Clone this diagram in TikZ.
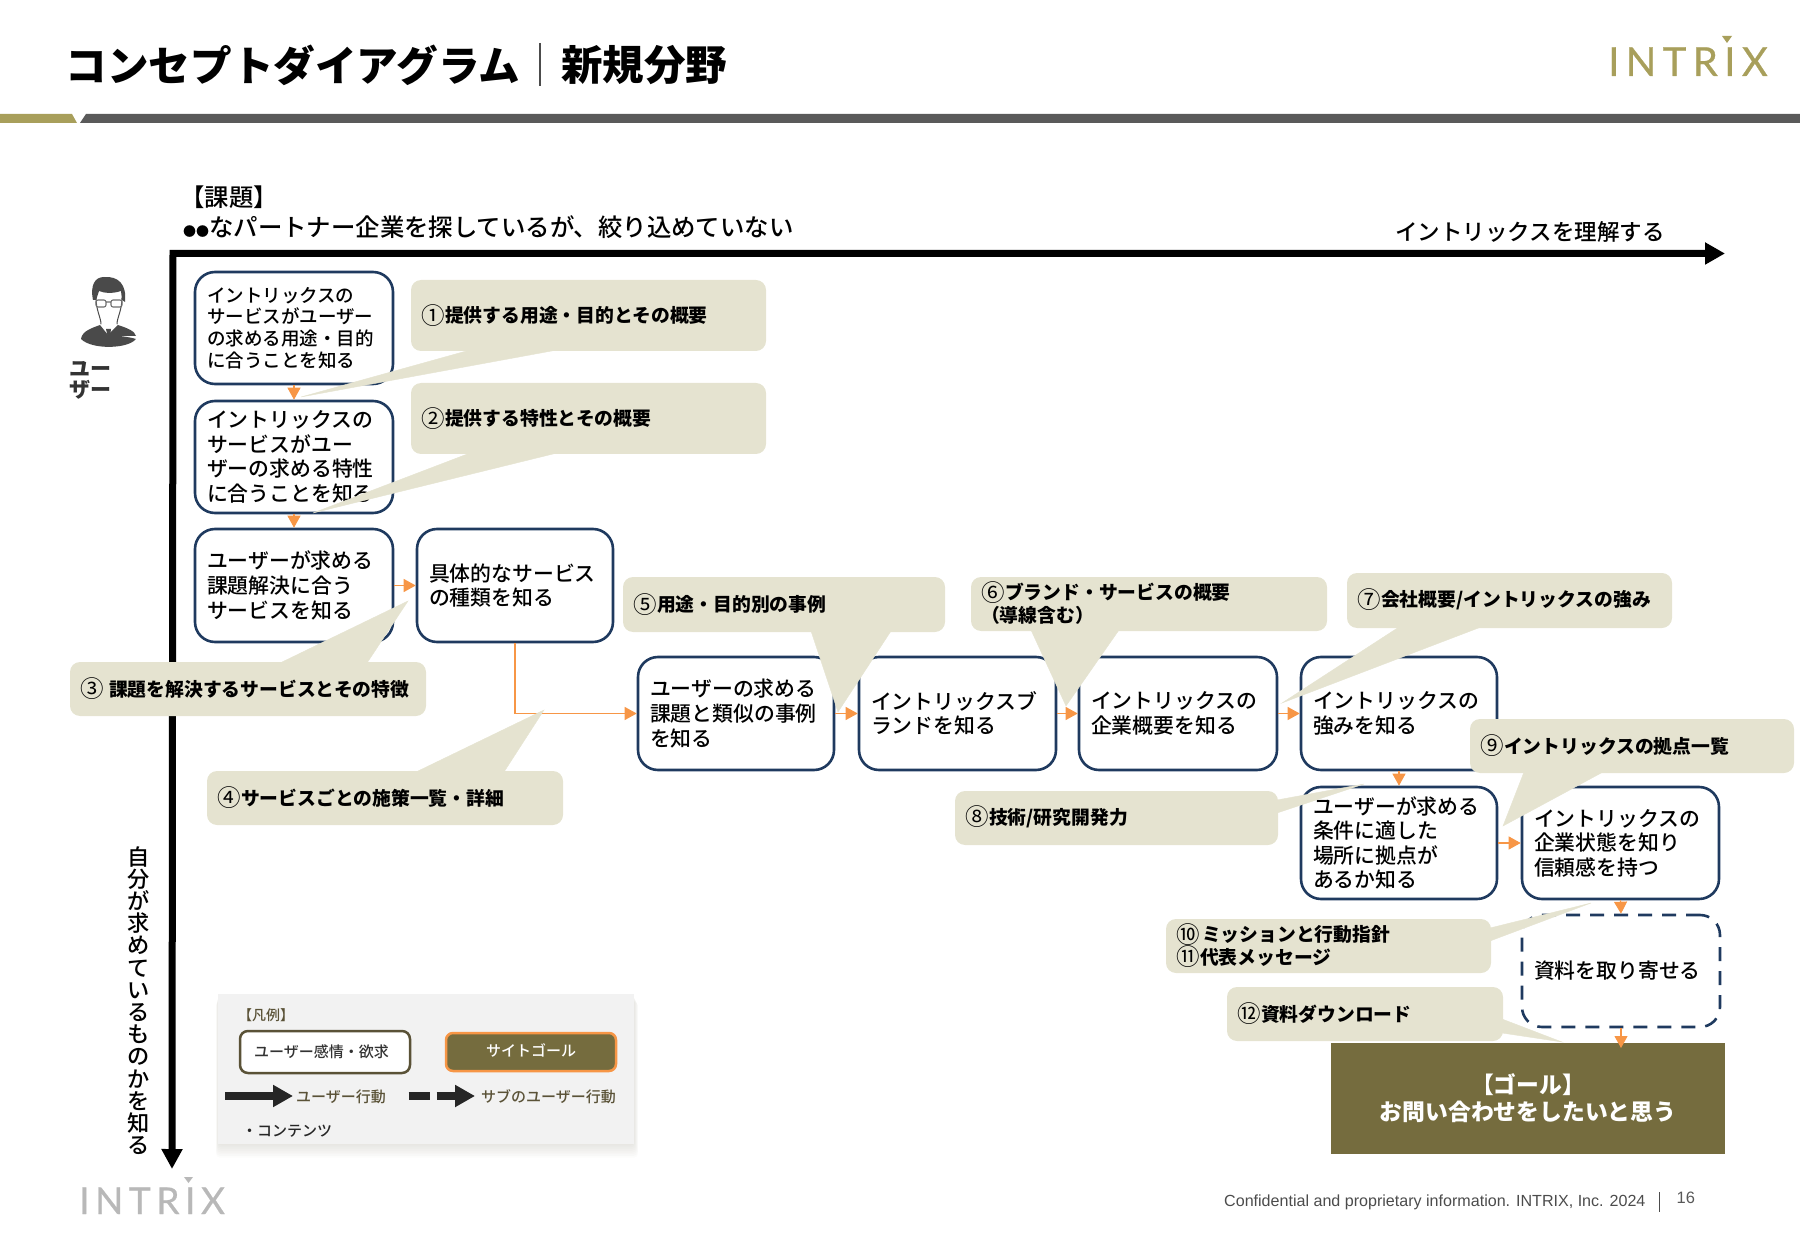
\documentclass[tikz,border=0pt]{standalone}
\usepackage{fontspec}
\setmainfont{Noto Sans CJK JP Medium}
\newfontfamily\latinf{Liberation Sans}
\newfontfamily\logof{Lato}
\newfontfamily\cnf{Noto Sans CJK JP}
\newcommand{\hv}{\cnf\bfseries}
\usetikzlibrary{arrows.meta}
\definecolor{gold}{HTML}{A89F5B}
\definecolor{barc}{HTML}{5A5A5A}
\definecolor{navy}{HTML}{1F3A5F}
\definecolor{orng}{HTML}{F79646}
\definecolor{callc}{HTML}{E5E3D0}
\definecolor{goalc}{HTML}{756C3E}
\definecolor{legbg}{HTML}{F2F2F2}
\definecolor{olive}{HTML}{5A5237}
\definecolor{icon}{HTML}{4A4A4A}
\newcommand{\cn}[1]{\makebox[24pt][l]{\raisebox{-1.6pt}[0pt][0pt]{\cnf\mdseries\fontsize{23.5}{22}\selectfont #1}}}
\tikzset{
  flowbox/.style={draw=navy,fill=white,line width=2.6pt,rounded corners=20pt,inner xsep=12pt,inner ysep=0pt,align=left,font=\fontsize{20.85}{24.6}\selectfont},
  smallbox/.style={flowbox,font=\fontsize{18.5}{21.7}\selectfont},
  dashbox/.style={flowbox,dash pattern=on 14pt off 10pt},
  callbox/.style={fill=callc,rounded corners=10pt,inner xsep=10pt,inner ysep=0pt,align=left,font=\hv\fontsize{18.8}{22.6}\selectfont},
  callptr/.style={fill=callc,draw=callc,line width=0.4pt},
  flow/.style={draw=orng,line width=1.1pt,-{Triangle[length=12pt,width=13pt]}},
  axis/.style={draw=black,line width=7pt},
  legarrow/.style={draw=black!85,line width=8pt,-{Triangle[length=20pt,width=21pt]}},
  legtext/.style={inner sep=0pt,anchor=west,text=olive,font=\fontsize{15}{15}\selectfont},
}
\newcommand{\bx}[7]{%
  \pgfmathsetmacro\bw{#4-#2}\pgfmathsetmacro\bh{#5-#3}\pgfmathsetmacro\tw{\bw-24}%
  \node[#6,minimum width=\bw pt,minimum height=\bh pt,text width=\tw pt] (#1) at ({(#2+#4)/2},{(#3+#5)/2}) {#7};}
\newcommand{\callout}[7]{%
  \pgfmathsetmacro\bw{#4-#2}\pgfmathsetmacro\bh{#5-#3}\pgfmathsetmacro\tw{\bw-20}%
  \node[callbox,minimum width=\bw pt,minimum height=\bh pt,text width=\tw pt] (#1) at ({(#2+#4)/2},{(#3+#5)/2}) {#6};
  \path[callptr] #7 -- cycle;}
\begin{document}
\begin{tikzpicture}[x=1pt,y=-1pt]
\useasboundingbox (0,0) rectangle (1800,1246);
% header
\fill[gold] (0,114) -- (72,114) -- (77,123) -- (0,123) -- cycle;
\fill[barc] (86,114) -- (1800,114) -- (1800,123) -- (80,123) -- cycle;
\node[inner sep=0pt,anchor=west,font=\hv\fontsize{41.6}{41}\selectfont] (title1) at (65.5,65) {コンセプトダイアグラム};
\node[inner sep=0pt,anchor=west,font=\hv\fontsize{41.5}{41.5}\selectfont] (title2) at (561,65) {新規分野};
\coordinate (d1) at (540,43); \coordinate (d2) at (540,86);
\draw[black!70,line width=1.2pt] (d1) -- (d2);
% logos
\node[inner sep=0pt,anchor=base west,text=gold,font=\logof\fontsize{40}{40}\selectfont] (logoa) at (1608,76) {\addfontfeatures{LetterSpace=16,FakeBold=0.6}INTRIX};
\fill[gold] (1722,36) -- (1732,36) -- (1727,43) -- cycle;
\node[inner sep=0pt,anchor=base west,text=black!28,font=\logof\fontsize{37}{37}\selectfont] (logob) at (79,1214) {\addfontfeatures{LetterSpace=15,FakeBold=0.6}INTRIX};
\fill[black!28] (184,1177) -- (193,1177) -- (188.5,1183) -- cycle;
% heading texts
\node[inner sep=0pt,anchor=west,font=\fontsize{24.4}{24}\selectfont] (kadai) at (180,197) {【課題】};
\node[inner sep=0pt,anchor=west,font=\fontsize{24.4}{24}\selectfont] (kadai2) at (183,227) {{\fontsize{13}{13}\selectfont ●●}なパートナー企業を探しているが、絞り込めていない};
\node[inner sep=0pt,anchor=west,font=\fontsize{22.5}{22.5}\selectfont] (xlabel) at (1395,232) {イントリックスを理解する};
\node[inner sep=0pt,align=center,font=\fontsize{22.2}{22.2}\selectfont] (ylabel) at (139,1000.5) {自\\分\\が\\求\\め\\て\\い\\る\\も\\の\\か\\を\\知\\る};
% axes
\coordinate (orig) at (173,253.5); \coordinate (xend) at (1725,253.5); \coordinate (yend) at (172,1169);
\draw[axis,{Triangle[length=20pt,width=20pt]}-{Triangle[length=20pt,width=21pt]}] (yend) -- (173,253.5) -- (xend);
% user icon
\node[inner sep=0pt,anchor=west,text=black!80,align=left,font=\hv\fontsize{21}{21}\selectfont] (user) at (69,380) {ユー\\ザー};
\fill[icon] (93,300) .. controls (90,285) and (95,277) .. (104,277) .. controls (118,276) and (127,284) .. (125,302) -- (122,300) -- (121,291) .. controls (112,294) and (104,293) .. (99,291) -- (96,300) -- cycle;
\draw[icon,line width=1pt,line cap=round] (96,298) .. controls (96,310) and (101,318) .. (101,324);
\draw[icon,line width=1pt,line cap=round] (122,298) .. controls (122,310) and (117,318) .. (117,324);
\draw[icon!80,line width=1.1pt,rounded corners=2pt] (96,300) rectangle (106,307) (111,300) rectangle (122,307) (106,302) -- (111,302);
\fill[icon] (81,339) .. controls (82,331) and (92,328) .. (100,325) -- (108,335) -- (118,325) .. controls (127,328) and (135,331) .. (136,336) -- (120,336) .. controls (128,337) and (133,338) .. (136,339) .. controls (128,349) and (92,350) .. (81,339) -- cycle;
\fill[icon] (106,329) -- (111,329) -- (110,337) -- (108,338) -- cycle;
% flow boxes
\bx{b1}{195}{272}{393}{384}{smallbox}{イントリックスの\\サービスがユーザー\\の求める用途・目的\\に合うことを知る}
\bx{b2}{195}{401}{393}{513}{flowbox}{イントリックスの\\サービスがユー\\ザーの求める特性\\に合うことを知る}
\bx{b3}{195}{529}{393}{642}{flowbox}{ユーザーが求める\\課題解決に合う\\サービスを知る}
\bx{b4}{417}{529}{613}{642}{flowbox}{具体的なサービス\\の種類を知る}
\bx{b5}{638}{657}{834}{770}{flowbox}{ユーザーの求める\\課題と類似の事例\\を知る}
\bx{b6}{859}{657}{1056}{770}{flowbox}{イントリックスブ\\ランドを知る}
\bx{b7}{1079}{657}{1277}{770}{flowbox}{イントリックスの\\企業概要を知る}
\bx{b8}{1301}{657}{1497}{770}{flowbox}{イントリックスの\\強みを知る}
\bx{b9}{1301}{787}{1497}{899}{flowbox}{ユーザーが求める\\条件に適した\\場所に拠点が\\あるか知る}
\bx{b10}{1522}{787}{1719}{899}{flowbox}{イントリックスの\\企業状態を知り\\信頼感を持つ}
\bx{b11}{1522}{915}{1720}{1027}{dashbox}{資料を取り寄せる}
\node[fill=goalc,text=white,minimum width=394pt,minimum height=111pt,inner sep=0pt,align=center,font=\hv\fontsize{22.8}{27}\selectfont] (goal) at (1528,1098.5) {\raisebox{1pt}{【ゴール】}\\\raisebox{1pt}{お問い合わせをしたいと思う}};
% flows
\draw[flow] (b1.south) -- (b2.north);
\draw[flow] (b2.south) -- (b3.north);
\draw[flow] (b3.east) -- (b4.west);
\draw[flow] (b4.south) |- (b5.west);
\draw[flow] (b5.east) -- (b6.west);
\draw[flow] (b6.east) -- (b7.west);
\draw[flow] (b7.east) -- (b8.west);
\draw[flow] (b8.south) -- (b9.north);
\draw[flow] (b9.east) -- (b10.west);
\draw[flow] (b10.south) -- (b11.north);
\coordinate (gin) at (1621,1048);
\draw[flow] (b11.south) -- (gin);
% callouts
\callout{c1}{411}{280}{766}{351}{\cn{①}提供する用途・目的とその概要}{(470,350) -- (301,397) -- (557,350)}
\callout{c2}{411}{383}{766}{454}{\cn{②}提供する特性とその概要}{(470,453) -- (313,513) -- (557,453)}
\callout{c3}{70}{662}{426}{716}{\cn{③}\hspace{5pt}課題を解決するサービスとその特徴}{(280,663) -- (408,601) -- (367,663)}
\callout{c4}{207}{771}{563}{825}{\cn{④}サービスごとの施策一覧・詳細}{(416,772) -- (544,710) -- (504,772)}
\callout{c5}{623}{577}{945}{632}{\cn{⑤}用途・目的別の事例}{(811,631) -- (838,712) -- (891,631)}
\callout{c6}{971}{577}{1327}{631}{\cn{⑥}ブランド・サービスの概要\\（導線含む）}{(1031,630) -- (1066,706) -- (1119,630)}
\callout{c7}{1347}{573}{1672}{628}{\cn{⑦}会社概要/イントリックスの強み}{(1399,627) -- (1282,703) -- (1481,627)}
\callout{c8}{955}{791}{1278}{845}{\cn{⑧}技術/研究開発力}{(1277,800) -- (1364,784) -- (1277,813)}
\callout{c9}{1470}{719}{1794}{773}{\cn{⑨}イントリックスの拠点一覧}{(1524,772) -- (1503,826) -- (1603,772)}
\callout{c10}{1166}{919}{1491}{973}{\cn{⑩}\hspace{2pt}ミッションと行動指針\\\cn{⑪}代表メッセージ}{(1490,928) -- (1591,903) -- (1490,941)}
\callout{c12}{1227}{987}{1503}{1041}{\cn{⑫}資料ダウンロード}{(1502,1019) -- (1562,1042) -- (1502,1033)}
% legend
\foreach \i in {1,...,8} \fill[black!25!callc,opacity=0.04,rounded corners=4pt] ({218-\i/4},{994+\i}) rectangle ({634+\i/2},{1144+1.7*\i});
\fill[legbg] (218,994) rectangle (634,1144);
\node[inner sep=0pt,anchor=west,text=olive,font=\fontsize{14}{14}\selectfont] (lg0) at (238,1015) {【凡例】};
\node[draw=olive,fill=white,line width=2.5pt,rounded corners=8pt,minimum width=170pt,minimum height=42pt,inner sep=0pt,text=black!80,font=\fontsize{15}{15}\selectfont] (lg1) at (325,1052) {\hspace{-7pt}ユーザー感情・欲求};
\node[draw=orng,fill=goalc,line width=2.5pt,rounded corners=7pt,minimum width=170pt,minimum height=38pt,inner sep=0pt,text=white,font=\fontsize{15}{15}\selectfont] (lg2) at (531,1052) {\raisebox{3pt}{サイトゴール}};
\coordinate (la1) at (225,1096); \coordinate (la2) at (293,1096);
\draw[legarrow] (la1) -- (la2);
\node[legtext] (lg3) at (296,1097) {ユーザー行動};
\coordinate (lb1) at (408.5,1096); \coordinate (lb2) at (429.5,1096); \coordinate (lb3) at (436.5,1096); \coordinate (lb4) at (475,1096);
\draw[draw=black!85,line width=8pt] (lb1) -- (lb2);
\draw[legarrow] (lb3) -- (lb4);
\node[legtext] (lg4) at (481,1097) {サブのユーザー行動};
\node[inner sep=0pt,anchor=west,text=black!85,font=\fontsize{15}{15}\selectfont] (lg5) at (242,1131) {・コンテンツ};
% footer
\node[inner sep=0pt,anchor=west,text=black!70,font=\latinf\fontsize{16.08}{16}\selectfont] (conf) at (1224,1202) {Confidential and proprietary information. INTRIX, Inc. 2024};
\coordinate (f1) at (1659,1192); \coordinate (f2) at (1659,1212);
\draw[black!70,line width=1pt] (f1) -- (f2);
\node[inner sep=0pt,anchor=west,text=black!65,font=\latinf\fontsize{16.5}{16.5}\selectfont] (pg) at (1676.5,1198) {16};
\end{tikzpicture}
\end{document}
